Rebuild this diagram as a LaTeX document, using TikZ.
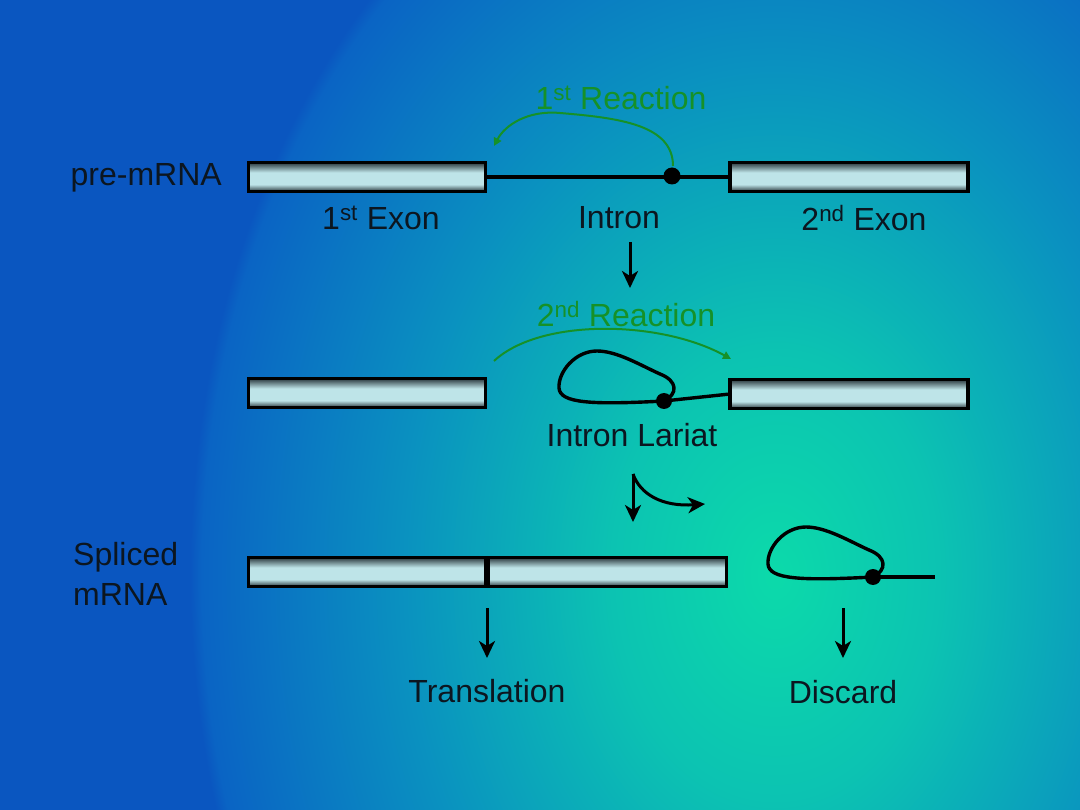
\documentclass[tikz,border=0pt]{standalone}
\usepackage{fontspec}
\setmainfont{Liberation Sans}
\usetikzlibrary{arrows.meta}
\definecolor{bgout}{RGB}{10,86,192}
\definecolor{bgedge}{RGB}{10,100,196}
\definecolor{bgmid}{RGB}{10,145,192}
\definecolor{bgin2}{RGB}{12,195,178}
\definecolor{bgin}{RGB}{12,218,170}
\definecolor{bardark}{RGB}{45,60,65}
\definecolor{barlight}{RGB}{190,228,232}
\definecolor{txt}{RGB}{12,22,32}
\definecolor{rgreen}{RGB}{22,145,40}
\pgfdeclareradialshading{bgshade}{\pgfpoint{0bp}{0bp}}{color(0bp)=(bgin); color(7bp)=(bgin2); color(16bp)=(bgmid); color(24.5bp)=(bgedge); color(25bp)=(bgout); color(50bp)=(bgout)}
\pgfdeclareverticalshading{barshade}{100bp}{color(0bp)=(bardark); color(25bp)=(bardark); color(37bp)=(barlight); color(58bp)=(barlight); color(75bp)=(bardark); color(100bp)=(bardark)}
\begin{document}
\begin{tikzpicture}[x=1pt,y=-1pt,
  bar/.style={draw=black, line width=3.4pt, shading=barshade, minimum height=28.5pt, inner sep=0pt, outer sep=0pt},
  dot/.style={circle, fill=black, minimum size=17pt, inner sep=0pt},
  lbl/.style={text=txt, font=\fontsize{32}{38}\selectfont, inner sep=0pt},
  glbl/.style={text=rgreen, font=\fontsize{32}{38}\selectfont, inner sep=0pt},
  blk/.style={draw=black, line width=3.4pt},
  arr/.style={draw=black, line width=3pt, -{Stealth[length=17pt,width=16pt,inset=5pt]}},
  garr/.style={draw=rgreen, line width=2pt, -{Triangle[length=8pt,width=8pt]}}]
\useasboundingbox (0,0) rectangle (1080,810);
\fill[bgout] (0,0) rectangle (1080,810);
\begin{scope}
\clip (0,0) rectangle (1080,810);
\shade[shading=bgshade] (775,575) ellipse [x radius=585, y radius=800];
\end{scope}

% Row 1
\node[bar, minimum width=237pt] (e1) at (367,177) {};
\node[bar, minimum width=238pt] (e2) at (849,177) {};
\draw[blk] (e1.east) -- (e2.west);
\node[dot] (bp1) at (672,176) {};
\node[lbl, anchor=east] (pre) at (222,178) {pre-mRNA};
\node[lbl] (ex1) at (381,218) {1\textsuperscript{st} Exon};
\node[lbl] (intr) at (619,218) {Intron};
\node[lbl] (ex2) at (864,218) {2\textsuperscript{nd} Exon};
\node[glbl] (r1) at (621,98) {1\textsuperscript{st} Reaction};
\coordinate (g1s) at (673,166);
\coordinate (g1e) at (494,146);
\draw[garr] (g1s) .. controls (673,125) and (620,118) .. (560,113) .. controls (528,110) and (505,125) .. (g1e);
\coordinate (a1s) at (630,242);
\coordinate (a1e) at (630,288);
\draw[arr] (a1s) -- (a1e);

% Row 2
\node[bar, minimum width=237pt] (f1) at (367,393) {};
\node[bar, minimum width=238pt] (f2) at (849,394) {};
\node[dot, minimum size=16pt] (bp2) at (664,401) {};
\draw[blk] (bp2.center) .. controls (678,394) and (678,381) .. (660,374) .. controls (640,365) and (617,351) .. (597,351) .. controls (575,351) and (558,372) .. (559,388) .. controls (560,403) and (590,405) .. (bp2.center);
\draw[blk] (bp2.center) -- (f2.west);
\node[lbl] (lar) at (632,435) {Intron Lariat};
\node[glbl] (r2) at (626,314) {2\textsuperscript{nd} Reaction};
\coordinate (g2s) at (494,361);
\coordinate (g2e) at (731,359);
\draw[garr] (g2s) .. controls (540,318) and (660,320) .. (g2e);

% hook arrows
\coordinate (h0) at (633,474);
\coordinate (h1) at (633,522);
\coordinate (h2) at (705,504);
\draw[arr] (h0) -- (h1);
\draw[arr] (h0) .. controls (640,494) and (662,507) .. (h2);

% Row 3
\node[bar, minimum width=237pt] (s1) at (367,572) {};
\node[bar, minimum width=238pt] (s2) at (607.5,572) {};
\node[lbl, anchor=west, align=left] (spl) at (73,574) {Spliced\\[2pt]mRNA};
\node[dot, minimum size=16pt] (bp3) at (873,577) {};
\draw[blk] (bp3.center) .. controls (887,570) and (887,557) .. (869,550) .. controls (849,541) and (826,527) .. (806,527) .. controls (784,527) and (767,548) .. (768,564) .. controls (769,579) and (799,581) .. (bp3.center);
\coordinate (tail) at (935,577);
\draw[blk] (bp3.center) -- (tail);

% bottom arrows
\coordinate (t0) at (487,608);
\coordinate (t1) at (487,658);
\draw[arr] (t0) -- (t1);
\coordinate (d0) at (843,608);
\coordinate (d1) at (843,658);
\draw[arr] (d0) -- (d1);
\node[lbl] (trans) at (487,691) {Translation};
\node[lbl] (disc) at (843,692) {Discard};
\end{tikzpicture}
\end{document}
